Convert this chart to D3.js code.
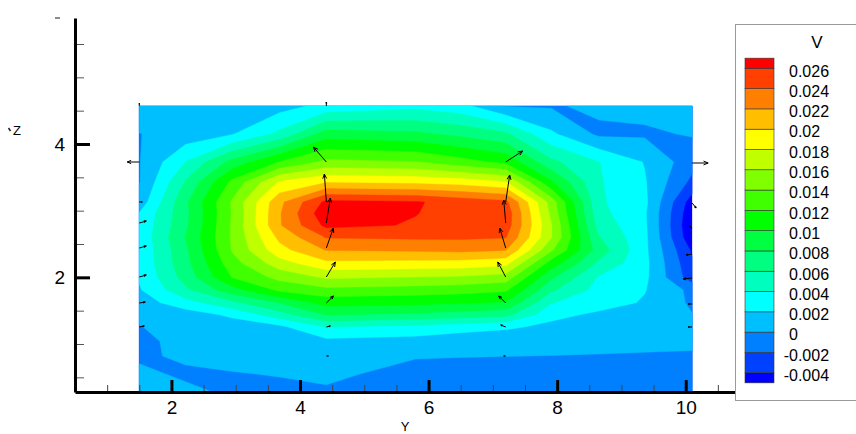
<!DOCTYPE html>
<html><head><meta charset="utf-8">
<script src="https://cdn.jsdelivr.net/npm/d3@7"></script>
<style>
body{margin:0;background:#fff}
svg{display:block}
text{font-family:"Liberation Sans",Arial,Helvetica,sans-serif;fill:#000}
</style>
</head><body>
<svg id="chart" width="856" height="434"></svg>
<script>
// ---------- data ----------
// grid node positions (Y across, Z from top row to bottom row)
const gridY = [1.5, 2.22, 2.95, 3.68, 4.41, 5.8, 6.5, 7.2, 7.91, 8.65, 9.36, 10.1];
const gridZ = [4.57, 4.15, 3.73, 3.43, 3.13, 2.96, 2.78, 2.60, 2.41, 2.21, 2.00, 1.81, 1.62, 1.44, 1.26, 1.04, 0.82, 0.55, 0.28];
// V at the nodes, one row per gridZ entry
const vGrid = [
  [0.0012, 0.0008, 0.0009, 0.0012, 0.0026, 0.0034, 0.0027, -0.0001, -0.0002, 0.0004, 0.0006, 0.0006],
  [-0.00005, 0.0008, 0.0019, 0.0045, 0.0090, 0.0084, 0.0075, 0.0064, 0.00235, -0.0004, -0.0003, 0.00015],
  [-0.0001, 0.00405, 0.0087, 0.0121, 0.0145, 0.0141, 0.0128, 0.0115, 0.0065, 0.00405, 0.0019, -0.0012],
  [-0.0001, 0.0062, 0.0125, 0.0182, 0.0198, 0.0195, 0.0191, 0.0181, 0.0103, 0.0042, 0.0022, -0.0025],
  [0.0008, 0.0076, 0.0143, 0.0215, 0.0265, 0.0262, 0.0252, 0.0245, 0.0151, 0.0043, 0.0025, -0.0050],
  [0.0021, 0.0075, 0.0142, 0.0218, 0.0275, 0.02605, 0.0254, 0.0253, 0.0155, 0.0046, 0.0023, -0.0055],
  [0.0024, 0.0076, 0.0143, 0.0218, 0.0265, 0.02585, 0.0252, 0.0251, 0.0161, 0.0052, 0.0024, -0.0058],
  [0.0025, 0.0081, 0.0143, 0.0205, 0.0241, 0.0243, 0.0243, 0.0241, 0.0161, 0.0061, 0.0025, -0.0055],
  [0.0024, 0.0076, 0.0142, 0.0193, 0.0221, 0.0223, 0.0225, 0.0221, 0.0143, 0.0071, 0.0025, -0.0043],
  [0.0024, 0.0074, 0.0132, 0.0171, 0.0195, 0.0193, 0.0192, 0.0186, 0.0111, 0.0056, 0.0026, -0.0036],
  [0.0022, 0.0068, 0.0121, 0.0146, 0.0163, 0.0159, 0.0157, 0.0151, 0.0083, 0.0038, 0.0025, -0.0031],
  [0.0018, 0.0056, 0.0092, 0.0124, 0.0134, 0.0131, 0.0128, 0.0123, 0.0063, 0.0033, 0.0021, -0.0005],
  [0.0010, 0.0032, 0.0056, 0.0081, 0.0108, 0.0105, 0.0102, 0.0098, 0.0041, 0.0029, 0.0018, -0.0003],
  [0.0004, 0.0010, 0.0024, 0.0052, 0.0081, 0.0076, 0.0072, 0.0066, 0.0026, 0.0016, 0.0014, 0.00005],
  [-0.00005, 0.0006, 0.0010, 0.0016, 0.0041, 0.0035, 0.0030, 0.0024, 0.0015, 0.0013, 0.0011, 0.0004],
  [-0.0004, 0.0005, 0.0008, 0.0010, 0.0015, 0.0012, 0.0006, 0.0005, 0.0005, 0.0006, 0.0006, 0.0005],
  [-0.0003, 0.0003, 0.0006, 0.0006, 0.0008, 0.0001, 0.00005, 0.00002, -0.00002, -0.0001, -0.0002, -0.0003],
  [0.0004, -0.0003, -0.0001, 0.0001, 0.0003, -0.0005, -0.0006, -0.0007, -0.0008, -0.0007, -0.0008, -0.0008],
  [0.0008, 0.0004, -0.0003, -0.0005, -0.0002, -0.0010, -0.0010, -0.0010, -0.0010, -0.0010, -0.0010, -0.0010]
];
// contour levels and band colours (lowest band first)
const levels = [-0.004, -0.002, 0, 0.002, 0.004, 0.006, 0.008, 0.01, 0.012, 0.014, 0.016, 0.018, 0.02, 0.022, 0.024, 0.026];
const bandColors = ["#0000ff","#0040ff","#0080ff","#00bfff","#00ffff","#00ffbf","#00ff80","#00ff40","#00ff00",
                    "#40ff00","#80ff00","#bfff00","#ffff00","#ffbf00","#ff8000","#ff4000","#ff0000"];
// velocity vectors (position and components, in axis units)
const vecY = [4.41,4.41,4.41,4.41,4.41,4.41,4.41,4.41,4.41,
              7.2,7.2,7.2,7.2,7.2,7.2,7.2,7.2,
              1.5,1.5,1.5,1.5,1.5,1.5,1.5,1.5,
              10.1,10.1,10.1,10.1,10.1,10.1,10.1];
const vecZ = [4.57,3.73,3.13,2.815,2.44,2.005,1.615,1.255,0.82,
              3.73,3.13,2.815,2.44,2.005,1.615,1.255,0.82,
              4.57,3.73,3.13,2.815,2.44,2.005,1.615,1.255,
              3.715,3.115,2.74,2.35,1.99,1.60,1.255];
const vecU = [0,-0.202,-0.031,0.062,0.109,0.14,0.109,0.062,0.031,
              0.264,0.062,-0.031,-0.093,-0.124,-0.109,-0.078,-0.031,
              0,-0.187,0.047,0.109,0.109,0.109,0.093,0.078,
              0.249,0.062,-0.047,-0.093,-0.14,-0.062,-0.062];
const vecW = [0.06,0.225,0.42,0.375,0.30,0.225,0.105,0.015,0,
              0.165,0.405,0.345,0.30,0.225,0.105,0.03,0,
              0.04,0,0,0.03,0.03,0.03,0.015,0.015,
              0,-0.075,0.03,-0.015,-0.015,0,0];
// axes ticks
const yMajorTicks = [2, 4, 6, 8, 10];
const yMinorTicks = [1, 1.5, 2.5, 3, 3.5, 4.5, 5, 5.5, 6.5, 7, 7.5, 8.5, 9, 9.5, 10.5, 11];
const zMajorTicks = [2, 4];
const zMinorTicks = [0.5, 1, 1.5, 2.5, 3, 3.5, 4.5, 5, 5.5];
const legendTitle = "V";
const xTitle = "Y", zTitle = "Z";

// ---------- drawing ----------
const svg = d3.select("#chart");
const xS = d3.scaleLinear().domain([0.5, 11]).range([75, 750]);
const zS = d3.scaleLinear().domain([0.28, 5.89]).range([392, 18]);

// contour flood
const nx = gridY.length, ny = gridZ.length;
const gx = d3.scaleLinear().domain(gridY.map((d, i) => i + 0.5)).range(gridY).clamp(true);
const gz = d3.scaleLinear().domain(gridZ.map((d, i) => i + 0.5)).range(gridZ).clamp(true);
const proj = d3.geoTransform({point(x, y) { this.stream.point(xS(gx(x)), zS(gz(y))); }});
const path = d3.geoPath(proj);
const cont = d3.contours().size([nx, ny]).thresholds(levels)(vGrid.flat());

const gPlot = svg.append("g");
gPlot.append("rect")
  .attr("x", xS(gridY[0])).attr("y", zS(gridZ[0]))
  .attr("width", xS(gridY[nx - 1]) - xS(gridY[0]))
  .attr("height", zS(gridZ[ny - 1]) - zS(gridZ[0]))
  .attr("fill", bandColors[0]);
gPlot.selectAll("path.band").data(cont).join("path")
  .attr("class", "band")
  .attr("d", path)
  .attr("fill", (d, i) => bandColors[i + 1])
  .attr("stroke", (d, i) => bandColors[i + 1])
  .attr("stroke-width", 0.4);

// vectors
const gVec = svg.append("g").attr("stroke", "#000").attr("stroke-width", 1).attr("fill", "none");
vecY.forEach((y, i) => {
  const x0 = xS(y), y0 = zS(vecZ[i]);
  const x1 = xS(y + vecU[i]), y1 = zS(vecZ[i] + vecW[i]);
  const L = Math.hypot(x1 - x0, y1 - y0);
  if (L < 0.5) return;
  const a = Math.atan2(y1 - y0, x1 - x0);
  const h = Math.min(5, L * 0.35), s = 0.4;
  const p = `M${x0},${y0}L${x1},${y1}` +
    `M${x1 - h * Math.cos(a - s)},${y1 - h * Math.sin(a - s)}L${x1},${y1}` +
    `L${x1 - h * Math.cos(a + s)},${y1 - h * Math.sin(a + s)}`;
  gVec.append("path").attr("d", p);
});

// axes
const gx1 = svg.append("g").attr("transform", "translate(0,392)");
gx1.call(d3.axisBottom(xS).tickValues(yMinorTicks).tickSizeInner(-7).tickSizeOuter(0).tickFormat(""));
gx1.selectAll(".tick line").attr("stroke", "#444").attr("stroke-width", 1);
gx1.select(".domain").remove();
const gx2 = svg.append("g").attr("transform", "translate(0,392)");
gx2.call(d3.axisBottom(xS).tickValues(yMajorTicks).tickSizeInner(-12).tickSizeOuter(0).tickPadding(9).tickFormat(d3.format("d")));
gx2.selectAll(".tick line").attr("stroke", "#000").attr("stroke-width", 3);
gx2.select(".domain").attr("stroke", "#000").attr("stroke-width", 3);
gx2.selectAll("text").attr("font-size", 19).attr("fill", "#000").attr("font-family", "Liberation Sans, Arial, sans-serif");

const gz1 = svg.append("g").attr("transform", "translate(75,0)");
gz1.call(d3.axisLeft(zS).tickValues(zMinorTicks).tickSizeInner(-9).tickSizeOuter(0).tickFormat(""));
gz1.selectAll(".tick line").attr("stroke", "#555").attr("stroke-width", 1);
gz1.select(".domain").remove();
const gz2 = svg.append("g").attr("transform", "translate(75,0)");
gz2.call(d3.axisLeft(zS).tickValues(zMajorTicks).tickSizeInner(-15).tickSizeOuter(0).tickPadding(10).tickFormat(d3.format("d")));
gz2.selectAll(".tick line").attr("stroke", "#000").attr("stroke-width", 3);
gz2.select(".domain").attr("stroke", "#000").attr("stroke-width", 3);
gz2.selectAll("text").attr("font-size", 19).attr("fill", "#000").attr("font-family", "Liberation Sans, Arial, sans-serif");

// top mark of Z axis
svg.append("line").attr("x1", 55).attr("x2", 60).attr("y1", 18).attr("y2", 18).attr("stroke", "#666").attr("stroke-width", 1.5);

// axis titles
svg.append("text").attr("x", 405).attr("y", 431).attr("text-anchor", "middle").attr("font-size", 13).text(xTitle);
svg.append("text").attr("x", 17).attr("y", 134.5).attr("text-anchor", "middle").attr("font-size", 13).text(zTitle);
svg.append("line").attr("x1", 8.5).attr("y1", 128).attr("x2", 10.5).attr("y2", 131).attr("stroke", "#222").attr("stroke-width", 1.5);

// legend
const lg = svg.append("g");
lg.append("rect").attr("x", 735.5).attr("y", 24.5).attr("width", 140).attr("height", 376)
  .attr("fill", "#fff").attr("stroke", "#9a9a9a").attr("stroke-width", 1);
lg.append("text").attr("x", 817).attr("y", 48).attr("text-anchor", "middle").attr("font-size", 17).text(legendTitle);
const ls = d3.scaleLinear().domain([-0.004, 0.026]).range([372.7, 68.3]);
const lstep = levels[1] - levels[0];
const bandEdges = [levels[0] - lstep / 2].concat(levels, [levels[levels.length - 1] + lstep / 2]);
lg.selectAll("rect.bb").data(bandColors).join("rect")
  .attr("class", "bb")
  .attr("x", 745).attr("width", 29)
  .attr("y", (d, i) => ls(bandEdges[i + 1]))
  .attr("height", (d, i) => ls(bandEdges[i]) - ls(bandEdges[i + 1]))
  .attr("fill", d => d).attr("stroke", "#333").attr("stroke-width", 0.6);
lg.selectAll("text.lab").data(levels).join("text")
  .attr("class", "lab")
  .attr("x", d => d < 0 ? 783.7 : 789)
  .attr("y", d => ls(d) + 8.3)
  .attr("font-size", 16)
  .text(d => String(d));
</script>
</body></html>
